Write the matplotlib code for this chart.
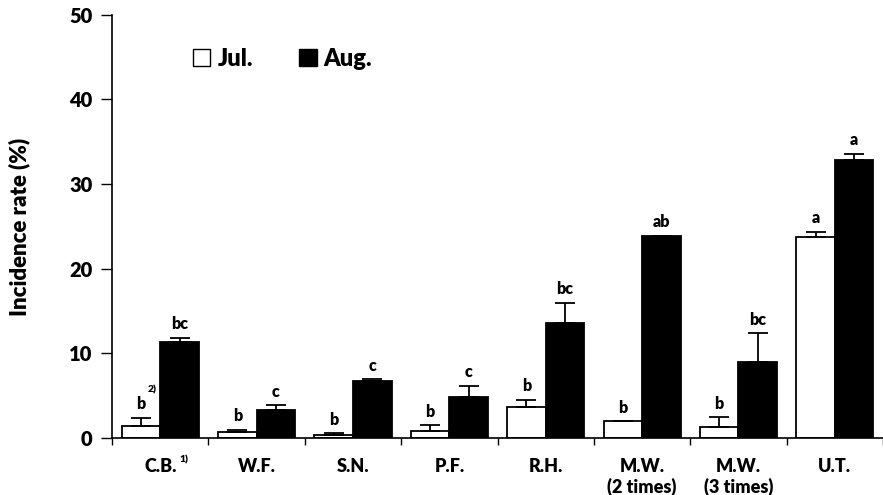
import matplotlib
matplotlib.use("Agg")
import matplotlib.pyplot as plt
from matplotlib.patches import Patch
import numpy as np

categories = ["C.B.", "W.F.", "S.N.", "P.F.", "R.H.", "M.W.\n(2 times)", "M.W.\n(3 times)", "U.T."]
jul = [1.4, 0.67, 0.35, 0.83, 3.66, 1.97, 1.3, 23.8]
jul_err = [1.0, 0.28, 0.2, 0.7, 0.85, 0.0, 1.18, 0.6]
aug = [11.4, 3.27, 6.77, 4.8, 13.6, 23.9, 8.95, 32.86]
aug_err = [0.45, 0.63, 0.2, 1.35, 2.36, 0.0, 3.45, 0.7]
jul_letters = ["b", "b", "b", "b", "b", "b", "b", "a"]
aug_letters = ["bc", "c", "c", "c", "bc", "ab", "bc", "a"]
yticks = [0, 10, 20, 30, 40, 50]

FONT = "Lato"
WT = "heavy"
plt.rcParams["font.family"] = [FONT, "DejaVu Sans"]
plt.rcParams["font.weight"] = WT

fig = plt.figure(figsize=(8.83, 4.95), dpi=100)
ax = fig.add_axes([0.127, 0.115, 0.873, 0.855])

x = np.arange(len(categories)) + 0.5
w = 0.4
ekw = dict(elinewidth=1.3, capthick=1.3, ecolor="black")
ax.bar(x - w / 2, jul, w, color="white", edgecolor="black", linewidth=1.3,
       yerr=[np.zeros(len(jul)), jul_err], capsize=7, error_kw=ekw, zorder=2)
ax.bar(x + w / 2, aug, w, color="black", edgecolor="black", linewidth=1.3,
       yerr=[np.zeros(len(aug)), aug_err], capsize=7, error_kw=ekw, zorder=2)

for xi, v, e, t in zip(x - w / 2, jul, jul_err, jul_letters):
    ax.annotate(t, (xi, v + e), xytext=(0, 4), textcoords="offset points",
                ha="center", va="bottom", fontsize=11.5, fontweight=WT)
for xi, v, e, t in zip(x + w / 2, aug, aug_err, aug_letters):
    ax.annotate(t, (xi, v + e), xytext=(0, 4), textcoords="offset points",
                ha="center", va="bottom", fontsize=11.5, fontweight=WT)
# footnote marker 2)
ax.annotate("2)", (x[0] - w / 2, jul[0] + jul_err[0]), xytext=(8, 17), textcoords="offset points",
            ha="center", va="bottom", fontsize=7.5, fontweight=WT)

ax.set_xlim(0, 7.97)
ax.set_ylim(0, 50)
ax.set_yticks(yticks)
ax.set_yticklabels([str(t) for t in yticks], fontsize=14.5, fontweight=WT)
ax.set_xticks(np.arange(len(categories) + 1))
ax.set_xticklabels([])
ax.set_xticks(x, minor=True)
ax.set_xticklabels(categories, minor=True, fontsize=13, fontweight=WT, linespacing=1.2, va="top")
ax.tick_params(axis="x", which="minor", length=0, pad=14)
ax.tick_params(axis="x", which="major", length=5, width=1, direction="out")
ax.tick_params(axis="y", length=8, width=1, direction="out", pad=6)
for s in ["top", "right"]:
    ax.spines[s].set_visible(False)
for s in ["left", "bottom"]:
    ax.spines[s].set_linewidth(1.2)

# footnote 1) on C.B. label
ax.annotate("1)", (x[0], 0), xytext=(17, -19), textcoords="offset points",
            ha="center", va="bottom", fontsize=7.5, fontweight=WT, annotation_clip=False)

ax.set_ylabel("Incidence rate (%)", fontsize=16, fontweight=WT, labelpad=28)

handles = [Patch(facecolor="white", edgecolor="black", linewidth=1),
           Patch(facecolor="black", edgecolor="black", linewidth=1)]
ax.legend(handles, ["Jul.", "Aug."], loc="upper left", bbox_to_anchor=(0.194, 0.946),
          bbox_transform=fig.transFigure, frameon=False, ncol=2, handlelength=0.75,
          handleheight=0.75, handletextpad=0.3, columnspacing=1.95,
          prop={"family": FONT, "weight": WT, "size": 17})

fig.savefig("out.png", dpi=100)
